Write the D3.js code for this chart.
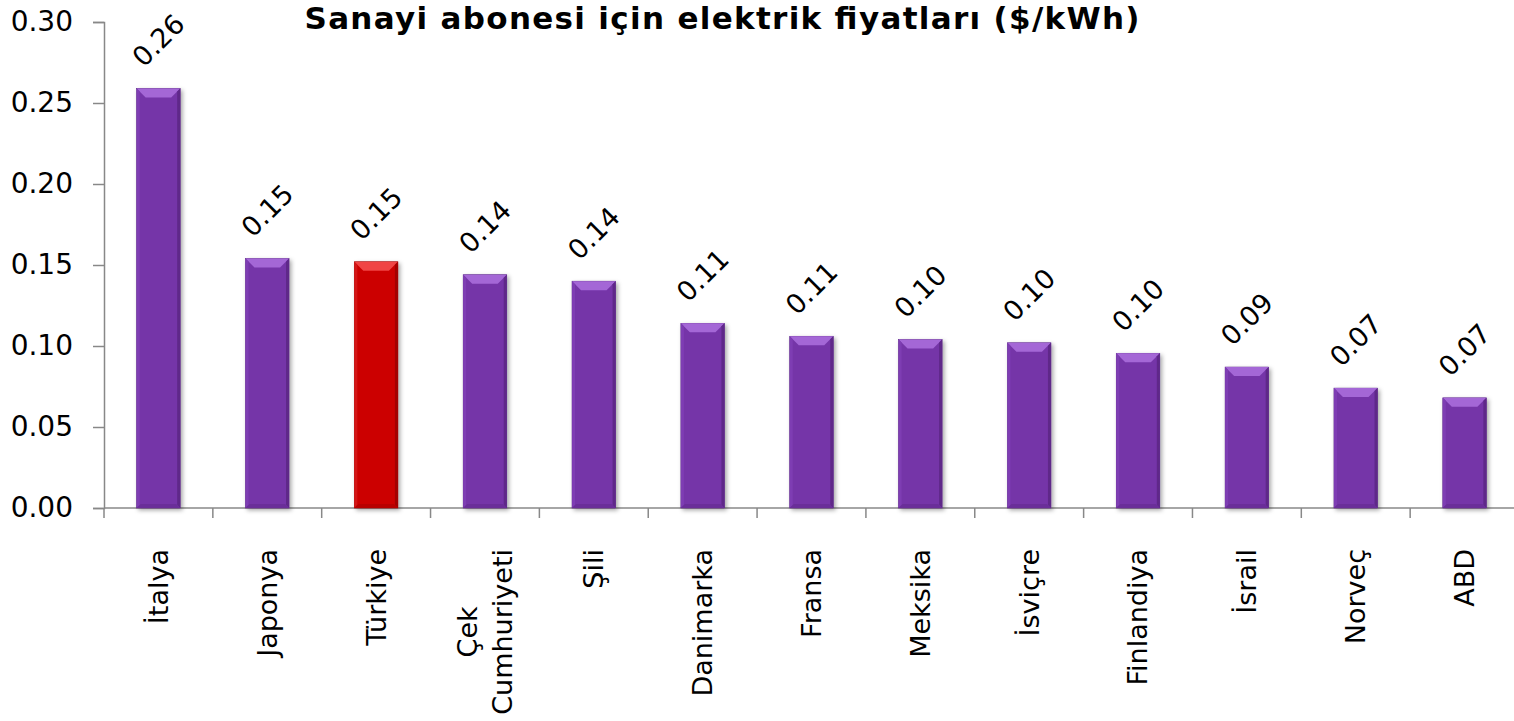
<!DOCTYPE html>
<html>
<head>
<meta charset="utf-8">
<script src="https://cdn.jsdelivr.net/npm/d3@7"></script>
<style>
  body { margin: 0; background: #fff; }
  svg { display: block; }
</style>
</head>
<body>
<div id="chart"></div>
<script>
const categories = ["İtalya", "Japonya", "Türkiye", "Çek\nCumhuriyeti", "Şili", "Danimarka", "Fransa",
                    "Meksika", "İsviçre", "Finlandiya", "İsrail", "Norveç", "ABD"];
const values = [0.259, 0.154, 0.152, 0.144, 0.140, 0.114, 0.106, 0.104, 0.102, 0.0955, 0.087, 0.074, 0.068];
const highlight = "Türkiye";
const yTicks = [0, 0.05, 0.10, 0.15, 0.20, 0.25, 0.30];
const title = "Sanayi abonesi için elektrik fiyatları ($/kWh)";

const width = 1514, height = 721;
const margin = { top: 22, right: -5, bottom: 213, left: 104 };
const font = "'DejaVu Sans', Verdana, sans-serif";

const svg = d3.select("#chart").append("svg")
  .attr("width", width)
  .attr("height", height);

const defs = svg.append("defs");
const shadow = defs.append("filter").attr("id", "shadow")
  .attr("x", "-20%").attr("y", "-10%").attr("width", "150%").attr("height", "130%");
shadow.append("feDropShadow")
  .attr("dx", 2).attr("dy", 2).attr("stdDeviation", 2)
  .attr("flood-color", "#000").attr("flood-opacity", 0.35);

const data = categories.map((c, i) => ({ name: c, value: values[i] }));

const x = d3.scaleBand()
  .domain(categories)
  .range([margin.left, width - margin.right])
  .padding(0);

const y = d3.scaleLinear()
  .domain([0, 0.30])
  .range([height - margin.bottom, margin.top]);

const axisColor = "#888";

// Y axis
const yAxis = svg.append("g")
  .attr("transform", `translate(${margin.left},0)`)
  .call(d3.axisLeft(y).tickValues(yTicks).tickFormat(d3.format(".2f")).tickSize(11).tickPadding(20));
yAxis.select(".domain").attr("stroke", axisColor).attr("stroke-width", 1.5);
yAxis.selectAll(".tick line").attr("stroke", axisColor).attr("stroke-width", 1.5);
yAxis.selectAll(".tick text")
  .attr("fill", "#000")
  .style("font-family", font)
  .style("font-size", "28px");

// X axis baseline + boundary ticks
const xg = svg.append("g");
xg.append("line")
  .attr("x1", margin.left).attr("x2", width)
  .attr("y1", y(0)).attr("y2", y(0))
  .attr("stroke", axisColor).attr("stroke-width", 1.5);
xg.selectAll("line.tick")
  .data(categories)
  .enter().append("line")
  .attr("class", "tick")
  .attr("x1", d => x(d)).attr("x2", d => x(d))
  .attr("y1", y(0)).attr("y2", y(0) + 10)
  .attr("stroke", axisColor).attr("stroke-width", 1.5);

// Bars with bevel
const barW = x.bandwidth() / 2.5;
const bev = 9;
const palette = {
  purple: { main: "#7535a8", top: "#a467d6", left: "#7e3db3", right: "#5f2889", bottom: "#6a2e99", edge: "#5a2783" },
  red:    { main: "#cc0505", top: "#f04545", left: "#d41616", right: "#a30000", bottom: "#b80000", edge: "#8f0000" }
};

const bars = svg.append("g").selectAll("g.bar")
  .data(data)
  .enter().append("g")
  .attr("class", "bar");

bars.each(function (d) {
  const g = d3.select(this);
  const c = d.name === highlight ? palette.red : palette.purple;
  const x0 = x(d.name) + (x.bandwidth() - barW) / 2;
  const x1 = x0 + barW;
  const y0 = y(d.value);
  const y1 = y(0);
  g.append("rect")
    .attr("x", x0).attr("y", y0)
    .attr("width", barW).attr("height", y1 - y0)
    .attr("fill", c.main)
    .attr("stroke", c.edge).attr("stroke-width", 0.6)
    .attr("filter", "url(#shadow)");
  // top bevel
  g.append("polygon")
    .attr("points", [[x0, y0], [x1, y0], [x1 - bev, y0 + bev], [x0 + bev, y0 + bev]].join(" "))
    .attr("fill", c.top);
  // right bevel
  g.append("polygon")
    .attr("points", [[x1, y0], [x1, y1], [x1 - 3, y1 - 3], [x1 - 3, y0 + 3]].join(" "))
    .attr("fill", c.right);
  // left bevel
  g.append("polygon")
    .attr("points", [[x0, y0], [x0 + 3, y0 + 3], [x0 + 3, y1 - 3], [x0, y1]].join(" "))
    .attr("fill", c.left);
  // bottom bevel
  g.append("polygon")
    .attr("points", [[x0, y1], [x0 + 4, y1 - 4], [x1 - 4, y1 - 4], [x1, y1]].join(" "))
    .attr("fill", c.bottom);
});

// Value labels, rotated
svg.append("g").selectAll("text")
  .data(data)
  .enter().append("text")
  .attr("transform", d => `translate(${x(d.name) + x.bandwidth() / 2},${y(d.value) - 48}) rotate(-45)`)
  .attr("text-anchor", "middle")
  .attr("dy", "0.35em")
  .style("font-family", font)
  .style("font-size", "27px")
  .attr("fill", "#000")
  .text(d => d.value.toFixed(2));

// Category labels, rotated -90
const catFont = 27;
const lineH = 35;
const labels = svg.append("g").selectAll("text")
  .data(categories)
  .enter().append("text")
  .style("font-family", font)
  .style("font-size", catFont + "px")
  .attr("fill", "#000")
  .attr("text-anchor", "middle");

labels.each(function (d) {
  const t = d3.select(this);
  const lines = d.split("\n");
  lines.forEach((ln, i) => {
    t.append("tspan")
      .attr("x", 0)
      .attr("dy", i === 0 ? (-(lines.length - 1) / 2 * lineH + catFont * 0.35) : lineH)
      .text(ln);
  });
  const maxLen = d3.max(t.selectAll("tspan").nodes(), n => n.getComputedTextLength());
  t.attr("transform", `translate(${x(d) + x.bandwidth() / 2},${y(0) + 41 + maxLen / 2}) rotate(-90)`);
});

// Title
svg.append("text")
  .attr("x", 722)
  .attr("y", 29)
  .attr("text-anchor", "middle")
  .attr("textLength", 835)
  .attr("lengthAdjust", "spacing")
  .style("font-family", font)
  .style("font-size", "31px")
  .style("font-weight", "bold")
  .attr("fill", "#000")
  .text(title);
</script>
</body>
</html>
